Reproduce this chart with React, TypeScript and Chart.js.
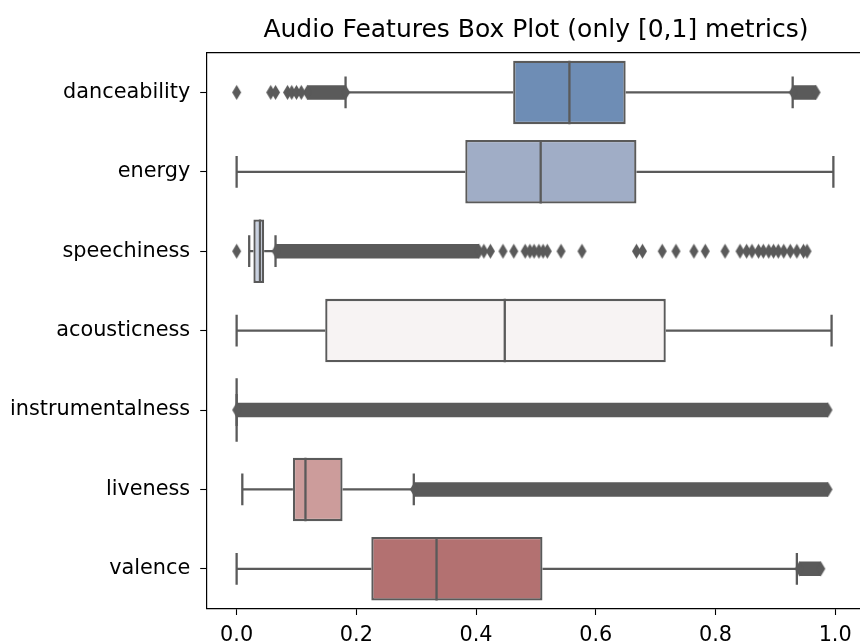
import React, { useEffect, useRef } from 'react';
import { Chart, registerables } from 'chart.js';

Chart.register(...registerables);

const titleText = 'Audio Features Box Plot (only [0,1] metrics)';
const features = ['danceability', 'energy', 'speechiness', 'acousticness', 'instrumentalness', 'liveness', 'valence'];
const q1 = [0.462, 0.382, 0.028, 0.148, 0.0, 0.094, 0.225];
const medians = [0.556, 0.508, 0.039, 0.448, 0.0, 0.115, 0.334];
const q3 = [0.650, 0.668, 0.046, 0.717, 0.0, 0.177, 0.511];
const whiskerLow = [0.182, 0.0, 0.021, 0.0, 0.0, 0.0095, 0.0];
const whiskerHigh = [0.929, 0.997, 0.065, 0.994, 0.0, 0.296, 0.936];
const boxColors = ['#6e8db5', '#a0adc6', '#c9d1e0', '#f7f3f3', '#ead3d3', '#cc9c9b', '#b37171'];
const lineColor = '#5a5a5a';

// individual outliers
const danceabilityOutliers = [0.0, 0.057, 0.065, 0.085, 0.092, 0.100, 0.108];
const speechinessOutliers = [0.0, 0.413, 0.424, 0.445, 0.463, 0.482, 0.49, 0.497, 0.505, 0.512, 0.519, 0.542, 0.577,
  0.668, 0.678, 0.711, 0.734, 0.764, 0.783, 0.816, 0.841, 0.852, 0.861, 0.872, 0.880, 0.889, 0.897, 0.905, 0.914,
  0.925, 0.936, 0.947, 0.953];
// dense runs of overlapping outliers [start, end]
const danceabilityRuns = [[0.118, 0.182], [0.93, 0.968]];
const speechinessRuns = [[0.066, 0.405]];
const instrumentalnessRuns = [[0.0, 0.988]];
const livenessRuns = [[0.297, 0.988]];
const valenceRuns = [[0.94, 0.976]];

const outliers: number[][] = [danceabilityOutliers, [], speechinessOutliers, [], [], [], []];
const outlierRuns: number[][][] = [danceabilityRuns, [], speechinessRuns, [], instrumentalnessRuns, livenessRuns, valenceRuns];

const xTicks = [0.0, 0.2, 0.4, 0.6, 0.8, 1.0];

function makeDiamond(w: number, h: number, color: string) {
  const c = document.createElement('canvas');
  c.width = w + 2;
  c.height = h + 2;
  const g = c.getContext('2d')!;
  g.fillStyle = color;
  g.beginPath();
  g.moveTo(c.width / 2, 1);
  g.lineTo(w + 1, c.height / 2);
  g.lineTo(c.width / 2, h + 1);
  g.lineTo(1, c.height / 2);
  g.closePath();
  g.fill();
  return c;
}

const GAP = { x: null as any, y: null as any };

export default function App() {
  const ref = useRef<HTMLCanvasElement>(null);
  useEffect(() => {
    const diamond = makeDiamond(9, 15, lineColor);
    const font = { family: '"DejaVu Sans"', size: 20.8 };
    const LW = 2.3;

    const whiskerData: any[] = [];
    const capData: any[] = [];
    const medianData: any[] = [];
    features.forEach((_, i) => {
      whiskerData.push({ x: whiskerLow[i], y: i }, { x: q1[i], y: i }, GAP, { x: q3[i], y: i }, { x: whiskerHigh[i], y: i }, GAP);
      capData.push({ x: whiskerLow[i], y: i - 0.2 }, { x: whiskerLow[i], y: i + 0.2 }, GAP,
        { x: whiskerHigh[i], y: i - 0.2 }, { x: whiskerHigh[i], y: i + 0.2 }, GAP);
      medianData.push({ x: medians[i], y: i - 0.4 }, { x: medians[i], y: i + 0.4 }, GAP);
    });
    const runData: any[] = [];
    outlierRuns.forEach((runs, i) => runs.forEach(([s, e]) => runData.push({ x: s, y: i }, { x: e, y: i }, GAP)));
    const pointData: any[] = [];
    outliers.forEach((vals, i) => vals.forEach((v) => pointData.push({ x: v, y: i })));

    const lineDs = (data: any[], order: number) => ({
      type: 'line' as const,
      data,
      borderColor: lineColor,
      borderWidth: LW,
      pointRadius: 0,
      spanGaps: false,
      fill: false,
      order,
    });

    const chart = new Chart(ref.current!, {
      type: 'scatter',
      data: {
        datasets: [
          {
            type: 'bar',
            indexAxis: 'y',
            data: features.map((_, i) => ({ x: [q1[i], q3[i]], y: i })) as any,
            backgroundColor: boxColors,
            borderColor: lineColor,
            borderWidth: LW,
            borderSkipped: false,
            barPercentage: 0.8,
            categoryPercentage: 1.0,
            order: 10,
          } as any,
          lineDs(whiskerData, 5),
          lineDs(capData, 4),
          lineDs(medianData, 3),
          {
            type: 'line',
            data: runData,
            borderColor: lineColor,
            borderWidth: 14.5,
            pointStyle: diamond as any,
            pointRadius: 4,
            spanGaps: false,
            fill: false,
            order: 2,
          } as any,
          {
            type: 'scatter',
            data: pointData,
            pointStyle: diamond as any,
            pointRadius: 4,
            order: 1,
          } as any,
        ],
      },
      options: {
        animation: false,
        responsive: false,
        layout: { autoPadding: false, padding: { left: 0, right: 2.9, top: 0, bottom: 0 } },
        plugins: {
          legend: { display: false },
          tooltip: { enabled: false },
          title: {
            display: true,
            text: titleText,
            fullSize: false,
            color: '#000',
            font: { family: '"DejaVu Sans"', size: 25, weight: 'normal' as any },
            padding: { top: 15, bottom: 7.7 },
          },
        },
        scales: {
          x: {
            type: 'linear',
            min: -0.05,
            max: 1.05,
            offset: false,
            afterBuildTicks: (s: any) => { s.ticks = xTicks.map((v) => ({ value: v })); },
            afterFit: (s: any) => { s.height = 35.5; s.paddingLeft = 0; s.paddingRight = 0; },
            ticks: { callback: (v: any) => Number(v).toFixed(1), color: '#000', font, padding: 8, maxRotation: 0 },
            grid: { offset: false, drawOnChartArea: false, drawTicks: true, tickLength: 6.5, tickColor: '#000', tickWidth: 1.1 },
            border: { display: true, color: '#000', width: 1.2 },
          },
          y: {
            type: 'linear',
            min: -0.5,
            max: 6.5,
            reverse: true,
            offset: false,
            afterBuildTicks: (s: any) => { s.ticks = features.map((_, i) => ({ value: i })); },
            afterFit: (s: any) => { s.width = 206.7; s.paddingTop = 0; s.paddingBottom = 0; },
            ticks: { callback: (_v: any, idx: number) => features[idx], color: '#000', font, padding: 10 },
            grid: { offset: false, drawOnChartArea: false, drawTicks: true, tickLength: 6.5, tickColor: '#000', tickWidth: 1.1 },
            border: { display: true, color: '#000', width: 1.2 },
          },
        },
      },
      plugins: [
        {
          id: 'topSpine',
          afterDraw(c: any) {
            const { ctx, chartArea } = c;
            ctx.save();
            ctx.strokeStyle = '#000';
            ctx.lineWidth = 1.2;
            ctx.beginPath();
            ctx.moveTo(chartArea.left, chartArea.top);
            ctx.lineTo(chartArea.right, chartArea.top);
            ctx.stroke();
            ctx.restore();
          },
        },
      ],
    });
    return () => chart.destroy();
  }, []);

  return (
    <div style={{ position: 'absolute', left: 0, top: 0, width: 860, height: 644, overflow: 'hidden', background: '#fff' }}>
      <canvas ref={ref} width={868} height={644} style={{ display: 'block', width: 868, height: 644 }} />
    </div>
  );
}
